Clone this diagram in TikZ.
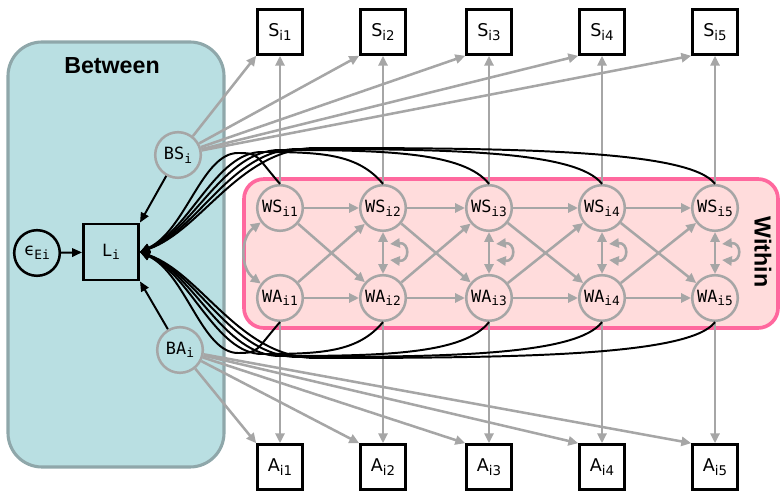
\documentclass[tikz,border=0pt]{standalone}
\usepackage{fontspec}
\setmainfont{DejaVu Sans}
\newfontfamily\monofont{DejaVu Sans Mono}
\newfontfamily\headfont{Liberation Sans}
\usetikzlibrary{arrows.meta}

\definecolor{betweenfill}{HTML}{B9DFE2}
\definecolor{betweenline}{HTML}{8FA7AA}
\definecolor{withinfill}{HTML}{FFDCDC}
\definecolor{withinline}{HTML}{FF689E}
\definecolor{pathgrey}{HTML}{A6A6A6}

\newcommand{\ix}[1]{\raisebox{-0.4ex}{\scalebox{0.76}{#1}}}

\tikzset{
  obs/.style={draw, line width=2pt, minimum width=1.12cm, minimum height=1.12cm,
    inner sep=0pt, font=\fontsize{12.5}{12}\selectfont},
  lbox/.style={obs, minimum width=1.38cm, minimum height=1.4cm, font=\monofont\fontsize{12}{12}\selectfont},
  lat/.style={circle, draw=pathgrey, line width=1.8pt, minimum size=1.14cm,
    inner sep=0pt, font=\monofont\fontsize{12}{12}\selectfont},
  err/.style={lat, draw=black},
  garrow/.style={draw=pathgrey, line width=1.8pt, -{Triangle[length=7pt,width=6.5pt]}},
  gboth/.style={garrow, {Triangle[length=7pt,width=6.5pt]}-{Triangle[length=7pt,width=6.5pt]}},
  barrow/.style={draw=black, line width=1.4pt, -{Triangle[length=7pt,width=6pt]}},
  level/.style={font=\headfont\bfseries\fontsize{16.5}{18}\selectfont}
}

\begin{document}
\begin{tikzpicture}[x=0.025cm, y=0.025cm]
\useasboundingbox (0,0) rectangle (780,492);

% the two levels
\draw[betweenline, fill=betweenfill, line width=2.2pt, rounded corners=0.85cm] (8,25) rectangle (224,450);
\node[level] (between) at (112,426) {Between};
\draw[withinline, fill=withinfill, line width=2.6pt, rounded corners=0.5cm] (244,164) rectangle (778,313);
\node[level, rotate=-90] (within) at (763,240) {Within};

% between part
\node[lbox] (L) at (111,240) {L\ix{i}};
\node[err] (eps) at (37,239) {ϵ\ix{Ei}};
\node[lat] (BS) at (178,337) {BS\ix{i}};
\node[lat] (BA) at (180,142) {BA\ix{i}};

% one column per occasion
\foreach \j/\x in {1/280,2/383,3/489,4/602,5/715} {
  \node[obs] (S\j) at (\x,460) {S\ix{i\j}};
  \node[obs] (A\j) at (\x,25) {A\ix{i\j}};
  \node[lat] (WS\j) at (\x,284) {WS\ix{i\j}};
  \node[lat] (WA\j) at (\x,194) {WA\ix{i\j}};
}

% loadings
\foreach \j in {1,...,5} {
  \draw[garrow] (BS) -- (S\j.south west);
  \draw[garrow] (BA) -- (A\j.north west);
  \draw[garrow] (WS\j) -- (S\j);
  \draw[garrow] (WA\j) -- (A\j);
}

% autoregressive and cross-lagged paths
\foreach \j [count=\k from 2] in {1,...,4} {
  \draw[garrow] (WS\j) -- (WS\k);
  \draw[garrow] (WA\j) -- (WA\k);
  \draw[garrow] (WS\j) -- (WA\k);
  \draw[garrow] (WA\j) -- (WS\k);
}
\draw[gboth] (WS1) .. controls +(-40,-30) and +(-40,30) .. (WA1);

% residuals and their covariance
\foreach \j/\x in {2/383,3/489,4/602,5/715} {
  \coordinate (rS\j) at (\x,247);
  \coordinate (rA\j) at (\x,231);
  \draw[garrow] (rS\j) -- (WS\j);
  \draw[garrow] (rA\j) -- (WA\j);
  \draw[draw=pathgrey, line width=1.8pt] (rS\j) -- (rA\j);
  \draw[gboth] (\x+7,248) .. controls (\x+27,250) and (\x+27,230) .. (\x+7,232);
}

% predictors of L
\draw[barrow] (eps) -- (L);
\draw[barrow] (BS) -- (L.north east);
\draw[barrow] (BA) -- (L.south east);
\foreach \j/\x/\px/\py/\cx/\vx in {1/280/238/339/202/186, 2/383/262/340/216/190,
    3/489/280/342/224/194, 4/602/298/343/232/198, 5/715/316/344/240/202} {
  \draw[barrow] (WS\j.north) .. controls ({\x-25},{\py-2}) and ({(\px+\x)/2},\py) .. (\px,\py)
    .. controls (\cx,\py) and (\vx,262) .. (L.east);
  \draw[barrow] (WA\j.south) .. controls ({\x-25},{480-\py}) and ({(\px+\x)/2},{478-\py}) .. (\px,{478-\py})
    .. controls (\cx,{478-\py}) and (\vx,218) .. (L.east);
}
\end{tikzpicture}
\end{document}
